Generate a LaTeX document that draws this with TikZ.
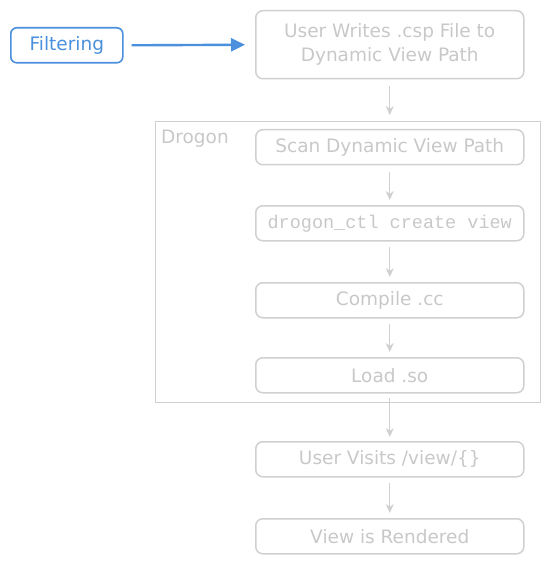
\documentclass[tikz,border=0pt]{standalone}
\usepackage{fontspec}
\setmainfont{DejaVu Sans}
\newfontfamily\monof{Liberation Mono}
\usetikzlibrary{arrows.meta}
\definecolor{gline}{HTML}{D0D0D0}
\definecolor{gtext}{HTML}{C8C8C8}
\definecolor{bline}{HTML}{4A90DC}
\tikzset{
  stepbox/.style={draw=gline, line width=1.5pt, rounded corners=7pt, text=gtext, font=\fontsize{18.5}{24}\selectfont, align=center, minimum width=268pt, minimum height=35pt, inner sep=0pt, anchor=north west},
  flow/.style={draw=gline, line width=1.4pt, -{Stealth[length=9pt,width=8pt]}},
  bluebox/.style={draw=bline, line width=1.6pt, rounded corners=6pt, text=bline, font=\fontsize{18.5}{19}\selectfont, minimum width=112pt, minimum height=35pt, inner sep=0pt, anchor=north west},
  blueflow/.style={draw=bline, line width=2.4pt, -{Triangle[length=14pt,width=13pt]}}
}
\begin{document}
\begin{tikzpicture}[x=1pt,y=-1pt]
\useasboundingbox (0,0) rectangle (549,564);
\node[draw=gline, line width=1.3pt, minimum width=385pt, minimum height=281pt, anchor=north west, inner sep=0pt] (drogon) at (155,121) {};
\node[text=gtext, font=\fontsize{18.5}{19}\selectfont, anchor=west, inner sep=0pt] (dlabel) at (161,139) {Drogon};
\node[bluebox] (filt) at (10,27) {Filtering};
\node[stepbox, minimum height=68pt] (b1) at (255,10) {User Writes .csp File to\\Dynamic View Path};
\node[stepbox] (b2) at (255,129) {Scan Dynamic View Path};
\node[stepbox, font=\monof\fontsize{18.5}{20}\selectfont] (b3) at (255,205) {drogon\_ctl create view};
\node[stepbox] (b4) at (255,282) {Compile .cc};
\node[stepbox] (b5) at (255,357) {Load .so};
\node[stepbox] (b6) at (255,441) {User Visits /view/\{\}};
\node[stepbox] (b7) at (255,518) {View is Rendered};
\draw[blueflow] (filt.east) ++(8,0) -- ([xshift=-10pt]b1.west);
\draw[flow] ([yshift=-7pt]b1.south) -- ([yshift=6pt]drogon.north -| b1.south);
\draw[flow] ([yshift=-6pt]b2.south) -- ([yshift=5pt]b3.north);
\draw[flow] ([yshift=-5pt]b3.south) -- ([yshift=5pt]b4.north);
\draw[flow] ([yshift=-5pt]b4.south) -- ([yshift=5pt]b5.north);
\draw[flow] ([yshift=5pt]drogon.south -| b5.south) -- ([yshift=4pt]b6.north);
\draw[flow] ([yshift=-5pt]b6.south) -- ([yshift=5pt]b7.north);
\end{tikzpicture}
\end{document}
